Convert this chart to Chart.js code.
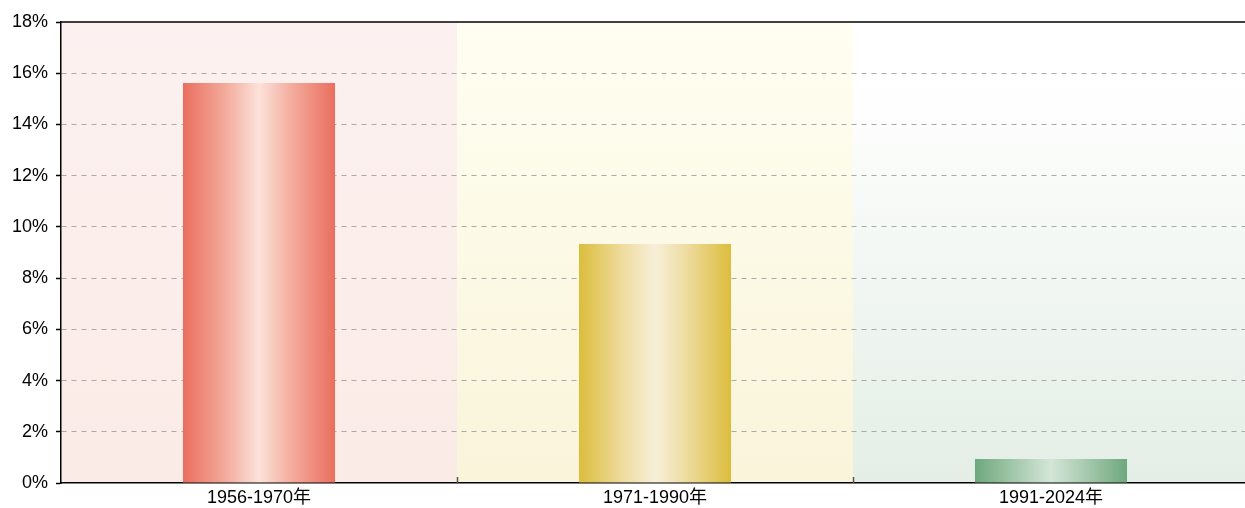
<!DOCTYPE html>
<html>
<head>
<meta charset="utf-8">
<script src="https://cdn.jsdelivr.net/npm/chart.js@4/dist/chart.umd.min.js"></script>
<style>
  html, body { margin: 0; padding: 0; background: #fff; overflow: hidden; }
  #wrap { width: 1249px; height: 508px; }
</style>
</head>
<body>
<div id="wrap"><canvas id="chart"></canvas></div>
<script>
// datos
const categories = ['1956-1970年', '1971-1990年', '1991-2024年'];
const values = [15.62, 9.33, 0.94];
const yTicks = [0, 2, 4, 6, 8, 10, 12, 14, 16, 18];

// colores de barra: borde, medio, centro
const barStops = [
    ['#ea6e5e', '#f3ab9c', '#fce2da'],
    ['#dcbd3c', '#eedb9c', '#f7efd9'],
    ['#6ea87d', '#a8cbb0', '#d4e6d7']
];
// fondos: arriba, abajo
const bandColors = [
    ['#fcf1f0', '#fbebe6'],
    ['#fffef1', '#f9f4da'],
    ['#ffffff', '#e4eee6']
];

const FONT = "'Liberation Sans', 'Noto Sans CJK SC', sans-serif";
const BAR_PCT = 0.384;

function barGradient(context) {
    const chart = context.chart;
    const area = chart.chartArea;
    if (!area) return barStops[context.dataIndex][0];
    const x = chart.scales.x;
    const i = context.dataIndex;
    const w = (x.width / categories.length) * BAR_PCT;
    const cx = x.getPixelForValue(i);
    const g = chart.ctx.createLinearGradient(cx - w / 2, 0, cx + w / 2, 0);
    const s = barStops[i];
    g.addColorStop(0, s[0]);
    g.addColorStop(0.28, s[1]);
    g.addColorStop(0.5, s[2]);
    g.addColorStop(0.72, s[1]);
    g.addColorStop(1, s[0]);
    return g;
}

const bandsPlugin = {
    id: 'bands',
    beforeDraw(chart) {
        const { ctx, chartArea: a, scales: { x } } = chart;
        const step = x.width / categories.length;
        ctx.save();
        categories.forEach((c, i) => {
            const left = x.getPixelForValue(i) - step / 2;
            const g = ctx.createLinearGradient(0, a.top, 0, a.bottom);
            g.addColorStop(0, bandColors[i][0]);
            if (i === 2) g.addColorStop(0.12, bandColors[i][0]);
            g.addColorStop(1, bandColors[i][1]);
            ctx.fillStyle = g;
            ctx.fillRect(left, a.top, step, a.bottom - a.top);
        });
        ctx.restore();
    },
    afterDraw(chart) {
        const { ctx, chartArea: a, scales: { x } } = chart;
        const step = x.width / categories.length;
        ctx.save();
        // linea superior
        ctx.strokeStyle = '#000';
        ctx.lineWidth = 1.5;
        ctx.beginPath();
        ctx.moveTo(a.left, a.top);
        ctx.lineTo(a.right, a.top);
        ctx.stroke();
        // marcas entre categorias
        ctx.strokeStyle = '#555';
        ctx.lineWidth = 1.5;
        for (let i = 1; i < categories.length; i++) {
            const px = Math.round(x.getPixelForValue(i) - step / 2) + 0.5;
            ctx.beginPath();
            ctx.moveTo(px, a.bottom);
            ctx.lineTo(px, a.bottom - 6);
            ctx.stroke();
        }
        ctx.restore();
    }
};

new Chart(document.getElementById('chart'), {
    type: 'bar',
    data: {
        labels: categories,
        datasets: [{
            data: values,
            backgroundColor: barGradient,
            borderWidth: 0,
            barPercentage: BAR_PCT,
            categoryPercentage: 1
        }]
    },
    options: {
        responsive: true,
        maintainAspectRatio: false,
        animation: false,
        layout: { padding: { top: 22, right: 0, left: 0, bottom: 0 } },
        plugins: {
            legend: { display: false },
            tooltip: { enabled: false }
        },
        scales: {
            x: {
                grid: { display: false, drawTicks: false },
                border: { display: true, color: '#000', width: 1.5 },
                ticks: {
                    color: '#000',
                    padding: 4,
                    font: { family: FONT, size: 18 }
                },
                afterFit(scale) { scale.height = 25; }
            },
            y: {
                min: 0,
                max: 18,
                afterBuildTicks(scale) {
                    scale.ticks = yTicks.map(v => ({ value: v }));
                },
                grid: {
                    color: (c) => (c.tick && (c.tick.value === 0 || c.tick.value === 18)) ? 'rgba(0,0,0,0)' : '#aaaaaa',
                    lineWidth: 1,
                    tickColor: '#000',
                    tickLength: 5,
                    tickWidth: 1.5
                },
                border: { display: true, color: '#000', width: 1.5, dash: [5, 5] },
                ticks: {
                    color: '#000',
                    padding: 8,
                    font: { family: FONT, size: 18 },
                    callback: (v) => v + '%'
                },
                afterFit(scale) { scale.width = 61; }
            }
        }
    },
    plugins: [bandsPlugin]
});
</script>
</body>
</html>
